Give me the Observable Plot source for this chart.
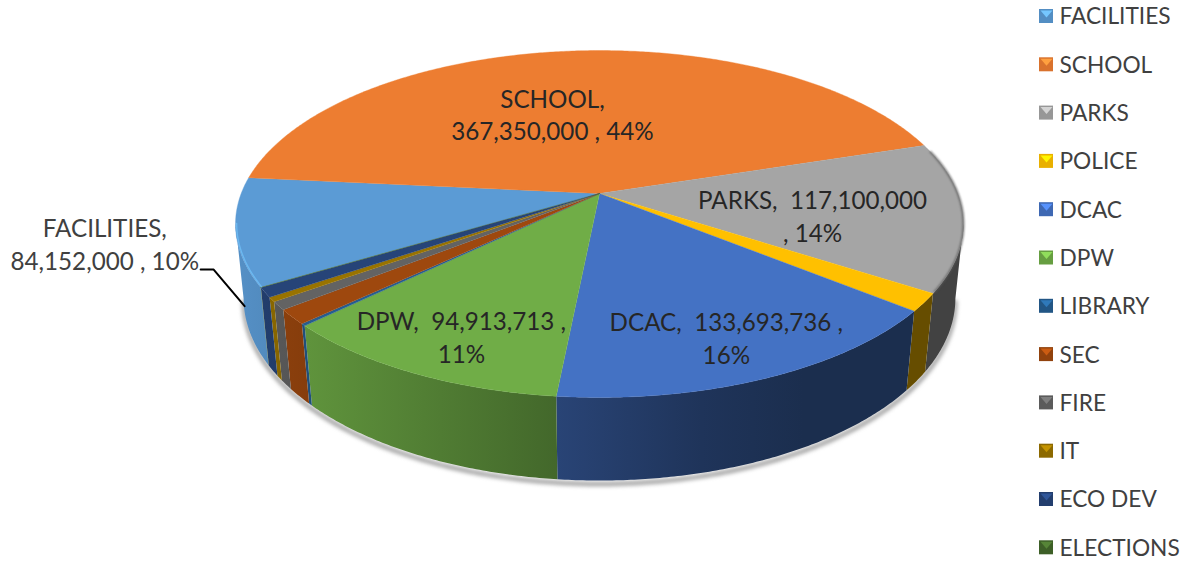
<!DOCTYPE html>
<html>
<head>
<meta charset="utf-8">
<script src="https://cdn.jsdelivr.net/npm/d3@7"></script>
<script src="https://cdn.jsdelivr.net/npm/@observablehq/plot@0.6"></script>
<style>
  html, body { margin: 0; padding: 0; background: #fff; }
  svg { display: block; }
</style>
</head>
<body>
<div id="chart"></div>
<script>
// Budget by department
const departments = ["FACILITIES", "SCHOOL", "PARKS", "POLICE", "DCAC", "DPW", "LIBRARY", "SEC", "FIRE", "IT", "ECO DEV", "ELECTIONS"];
const budgets = [84152000, 367350000, 117100000, 14000000, 133693736, 94913713, 1600000, 11500000, 6500000, 3500000, 7500000, 300000];
const palette = ["#5B9BD5", "#ED7D31", "#A5A5A5", "#FFC000", "#4472C4", "#70AD47", "#255E91", "#9E480E", "#636363", "#997300", "#264478", "#43682B"];

const firstSliceAngle = 239.5;
const width = 1191, height = 562;

// Perspective view of the pie: a tilted disc with a thick wall seen from above
const view = {cx: 599, cy: 193, a: 358.3, b: 168.1, depth: 74.8, tilt: 0.1758, fall: 0.022};
const project = (deg, r = 1, z = 0) => {
  const t = deg * Math.PI / 180;
  const u = r * Math.sin(t), v = -r * Math.cos(t);
  const w = 1 - view.tilt * v + view.fall * z;
  return {x: view.cx + view.a * u / w, y: view.cy + (view.b * v + view.depth * z) / w};
};
const arc = (a0, a1, r = 1, z = 0) => {
  const n = Math.max(2, Math.ceil(Math.abs(a1 - a0) / 0.5));
  return d3.range(n + 1).map(i => project(a0 + (a1 - a0) * i / n, r, z));
};

const total = d3.sum(budgets);
const sweep = budgets.map(v => v / total * 360);
const slices = departments.map((name, i) => {
  const start = firstSliceAngle + d3.sum(sweep.slice(0, i));
  return {name, value: budgets[i], color: palette[i], index: i, start, end: start + sweep[i]};
});

// Angles between which the outer wall faces the viewer
const frontFrom = 100, frontTo = 260;
const frontRange = s => {
  // angles past a full turn wrap back to the right-hand side of the disc
  const shift = s.start >= 360 ? 360 : 0;
  const lo = Math.max(s.start - shift, frontFrom), hi = Math.min(s.end - shift, frontTo);
  return hi > lo ? [lo, hi] : null;
};

// Wall shading falls off from left to right across the disc
const shadeStops = [[0, 0.93], [0.1, 0.85], [0.44, 0.6], [0.64, 0.46], [0.78, 0.4], [1, 0.4]];
const gradients = () => {
  const defs = d3.create("svg:defs");
  slices.forEach(s => {
    const g = defs.append("linearGradient")
      .attr("id", `wall-${s.index}`)
      .attr("gradientUnits", "userSpaceOnUse")
      .attr("x1", 235).attr("x2", 963).attr("y1", 0).attr("y2", 0);
    const c = d3.rgb(s.color);
    shadeStops.forEach(([o, k]) => g.append("stop")
      .attr("offset", o)
      .attr("stop-color", d3.rgb(c.r * k, c.g * k, c.b * k).formatHex()));
  });
  return defs.node();
};

const walls = slices.flatMap(s => {
  const range = frontRange(s);
  if (!range) return [];
  const [lo, hi] = range;
  return [Plot.line(
    [...arc(lo, hi, 1, 0), ...arc(hi, lo, 1, 1)],
    {x: "x", y: "y", fill: `url(#wall-${s.index})`, stroke: "none"}
  )];
});
const tops = slices.map(s => Plot.line(
  [project(0, 0), ...arc(s.start, s.end)],
  {x: "x", y: "y", fill: s.color, stroke: s.color, strokeWidth: 0.4}
));

// A pale bevel along the front edge of the top face, from the DCAC slice leftward
const rims = slices.filter(s => s.start > 128 && s.start < 360).flatMap(s => {
  const range = frontRange(s);
  if (!range) return [];
  return [Plot.line(arc(range[0], range[1], 0.997), {
    x: "x", y: "y",
    stroke: d3.rgb(s.color).brighter(0.7).formatHex(),
    strokeWidth: 1.4, strokeOpacity: 0.65
  })];
});

// Soft shadows: beneath the wall, and on the far right of the top edge
const shadow = Plot.line(
  arc(frontFrom, frontTo, 1, 1.03).map(p => ({x: p.x, y: p.y + 1})),
  {x: "x", y: "y", stroke: "#8c8c8c", strokeWidth: 3.5, imageFilter: "blur(2px)"}
);
const edgeShade = Plot.line(arc(75, 122), {
  x: "x", y: "y", stroke: "#5a5a5a", strokeWidth: 1.6, imageFilter: "blur(1px)"
});

// Data labels, placed by angle and radius on the disc
const fmt = d3.format(",");
const pct = v => d3.format(".0%")(v / total);
const lineBreaks = {
  FACILITIES: (n, v, p) => `${n},\n${v} , ${p}`,
  SCHOOL: (n, v, p) => `${n},\n${v} , ${p}`,
  PARKS: (n, v, p) => `${n},  ${v}\n, ${p}`,
  DCAC: (n, v, p) => `${n},  ${v} ,\n${p}`,
  DPW: (n, v, p) => `${n},  ${v} ,\n${p}`
};
const labelNames = ["FACILITIES", "SCHOOL", "PARKS", "DCAC", "DPW"];
const labelAngles = [257.4, -15.8, 103, 157.7, 204.1];
const labelRadii = [1.342, 0.525, 0.596, 0.81, 0.82];
const labelInk = ["#404040", "#262626", "#262626", "#262626", "#262626"];
const labels = labelNames.map((name, i) => {
  const s = slices.find(d => d.name === name);
  return {...project(labelAngles[i], labelRadii[i]),
    text: lineBreaks[name](name, fmt(s.value), pct(s.value)), ink: labelInk[i]};
});

// Leader from the FACILITIES label to the wall
const leader = [[247.9, 1.113], [247.2, 1.082], [235.9, 1.07]].map(([a, r]) => project(a, r));

// Legend column on the right
const legendTop = 16, legendStep = 48.3, keyLeft = 1039, keySize = 14, legendText = 1059;
const legend = departments.map((name, i) => ({name, color: palette[i], y: legendTop + i * legendStep}));
const keyBevels = legend.map(d => Plot.line(
  [{x: keyLeft + 1, y: d.y - keySize / 2 + 1},
   {x: keyLeft + keySize - 1, y: d.y - keySize / 2 + 1},
   {x: keyLeft + keySize / 2, y: d.y + 1}],
  {x: "x", y: "y", fill: d3.rgb(d.color).brighter(0.7).formatHex(), stroke: "none"}
));

const chart = Plot.plot({
  width, height,
  margin: 0,
  style: {background: "#fff"},
  x: {type: "linear", domain: [0, width], range: [0, width], axis: null},
  y: {type: "linear", domain: [0, height], range: [0, height], axis: null},
  marks: [
    gradients,
    shadow,
    ...walls,
    ...tops,
    ...rims,
    edgeShade,
    Plot.line(leader, {x: "x", y: "y", stroke: "#000", strokeWidth: 2, strokeLinejoin: "miter"}),
    Plot.text(labels, {
      x: "x", y: "y", text: "text", fill: "ink", dy: -2,
      fontFamily: "Lato", fontSize: 24.2, lineHeight: 1.36, textAnchor: "middle"
    }),
    Plot.rect(legend, {
      x1: keyLeft, x2: keyLeft + keySize,
      y1: d => d.y - keySize / 2, y2: d => d.y + keySize / 2,
      fill: d => d3.rgb(d.color).darker(0.25).formatHex()
    }),
    ...keyBevels,
    Plot.text(legend, {
      x: legendText, y: "y", text: "name", fill: "#404040", dy: 0.7,
      textAnchor: "start", fontFamily: "Lato", fontSize: 22.7
    })
  ]
});
document.getElementById("chart").append(chart);
</script>
</body>
</html>
